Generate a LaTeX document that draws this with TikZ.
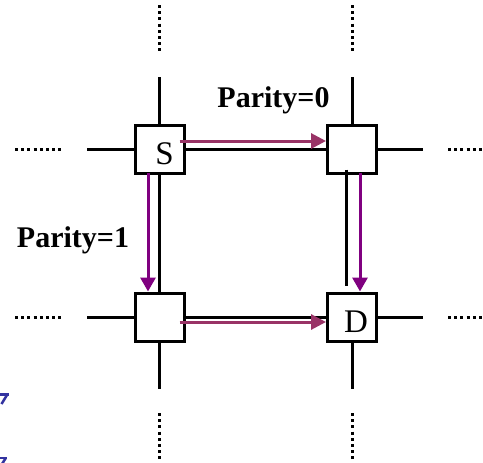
\documentclass[tikz,border=0pt]{standalone}
\usepackage{fontspec}
\setmainfont{Liberation Serif}
\usetikzlibrary{arrows.meta}
\definecolor{hpurple}{RGB}{153,51,102}
\definecolor{vpurple}{RGB}{128,0,128}
\definecolor{markblue}{RGB}{51,51,160}
\tikzset{
  router/.style={draw, line width=3pt, minimum width=49pt, minimum height=48pt, inner sep=0pt, fill=white},
  wire/.style={line width=3pt},
  dotwire/.style={line width=3pt, dash pattern=on 3pt off 3.2pt},
  harrow/.style={line width=3pt, hpurple, -{Triangle[length=15pt,width=15pt]}},
  varrow/.style={line width=3pt, vpurple, -{Triangle[length=14pt,width=15pt]}},
  lbl/.style={font=\fontsize{30}{32}\selectfont\bfseries, inner sep=0pt, anchor=base},
  nlbl/.style={font=\fontsize{33}{35}\selectfont, inner sep=0pt, anchor=base}
}
\begin{document}
\begin{tikzpicture}[x=1pt, y=-1pt]
\useasboundingbox (0,0) rectangle (483,463);
\fill[white] (0,0) rectangle (483,463);
% routers
\node[router] (S) at (159.5,149) {};
\node[router] (B) at (352,149) {};
\node[router] (C) at (159.5,317) {};
\node[router] (D) at (352,317) {};
% free ends of stubs
\coordinate (St) at (159.5,77);
\coordinate (Bt) at (352,77);
\coordinate (Sl) at (87,149);
\coordinate (Cl) at (87,317);
\coordinate (Br) at (423,149);
\coordinate (Dr) at (423,317);
\coordinate (Cb) at (159.5,389);
\coordinate (Db) at (352,389);
% dotted ends
\coordinate (d1a) at (15,149); \coordinate (d1b) at (63,149);
\coordinate (d2a) at (15,317); \coordinate (d2b) at (63,317);
\coordinate (d3a) at (448,149); \coordinate (d3b) at (483,149);
\coordinate (d4a) at (448,317); \coordinate (d4b) at (483,317);
\coordinate (d5a) at (159.5,5); \coordinate (d5b) at (159.5,54);
\coordinate (d6a) at (352,5); \coordinate (d6b) at (352,54);
\coordinate (d7a) at (159.5,413); \coordinate (d7b) at (159.5,462);
\coordinate (d8a) at (352,413); \coordinate (d8b) at (352,462);
% black wires
\draw[wire] (St) -- (S.north);
\draw[wire] (Bt) -- (B.north);
\draw[wire] (Sl) -- (S.west);
\draw[wire] (Cl) -- (C.west);
\draw[wire] (B.east) -- (Br);
\draw[wire] (D.east) -- (Dr);
\draw[wire] (C.south) -- (Cb);
\draw[wire] (D.south) -- (Db);
\draw[wire] (S.east) -- (B.west);
\draw[wire] (S.south) -- (C.north);
\draw[wire] (C.east) -- (D.west);
\draw[wire] ([xshift=-6pt,yshift=5pt]B.south) -- ([xshift=-6pt,yshift=6pt]D.north);
% dotted wires
\foreach \i in {1,...,8} { \draw[dotwire] (d\i a) -- (d\i b); }
% purple arrows
\draw[harrow] ([xshift=-6pt,yshift=8pt]S.east) -- ([yshift=8pt]B.west);
\draw[harrow] ([xshift=-6pt,yshift=-5pt]C.east) -- ([yshift=-5pt]D.west);
\draw[varrow] ([xshift=-11.5pt,yshift=2pt]S.south) -- ([xshift=-11.5pt]C.north);
\draw[varrow] ([xshift=8pt,yshift=2pt]B.south) -- ([xshift=8pt]D.north);
% labels
\node[nlbl] (Slbl) at (164.5,164) {S};
\node[nlbl] (Dlbl) at (356,332) {D};
\node[lbl] (P0) at (273.5,107) {Parity=0};
\node[lbl] (P1) at (73,247) {Parity=1};
% cropped blue marks at left edge
\draw[markblue, line width=2.2pt] (0,394.5) -- (8.5,394.5);
\draw[markblue, line width=2.5pt] (7,395) -- (1.5,404);
\draw[markblue, line width=2.2pt] (0,458) -- (7,458);
\draw[markblue, line width=2.5pt] (5.5,458.5) -- (2,464);
\end{tikzpicture}
\end{document}
